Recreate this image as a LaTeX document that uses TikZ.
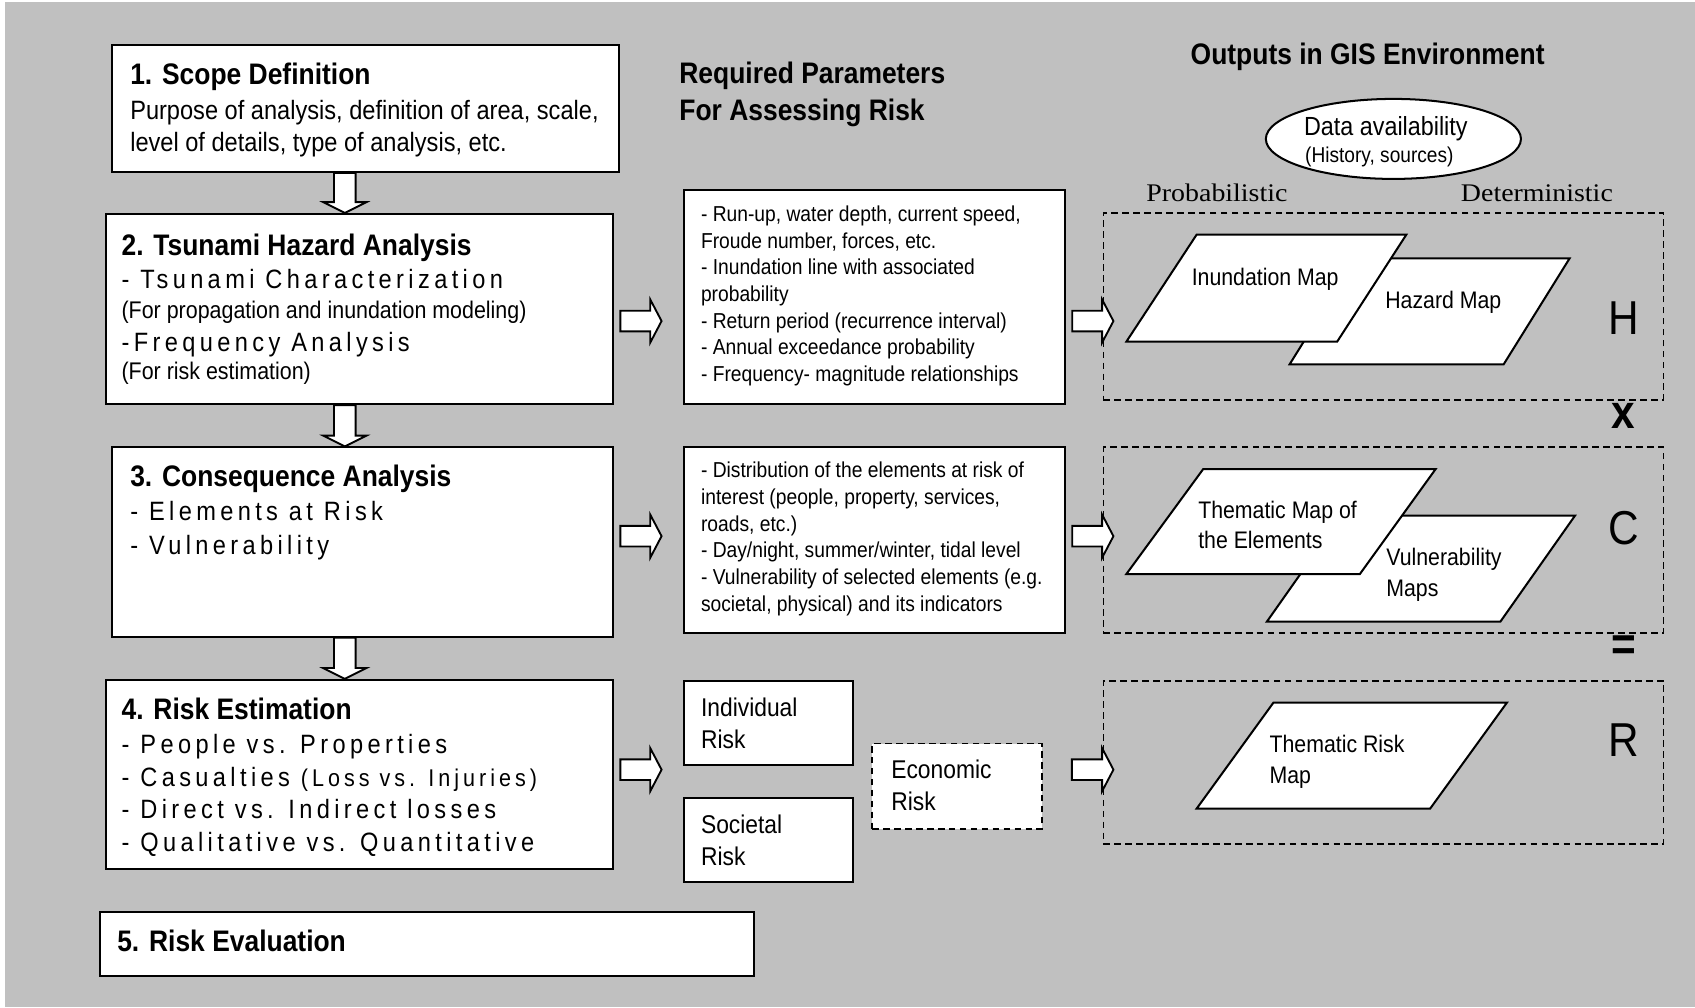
\documentclass[tikz,border=0pt]{standalone}
\usepackage{fontspec}
\setmainfont[FakeStretch=0.89]{Liberation Sans}
\newfontfamily\spacedfont[FakeStretch=0.89,LetterSpace=16.5]{Liberation Sans}
\newfontfamily\serifont[FakeStretch=1.1]{Liberation Serif}
\usetikzlibrary{calc,positioning,shapes.geometric}
\definecolor{bggray}{RGB}{192,192,192}

\tikzset{every picture/.style={line width=0.75pt}}
\tikzset{
  box/.style={draw, fill=white, line width=1.4pt, anchor=north west, inner sep=0pt},
  dbox/.style={draw, dash pattern=on 4.6pt off 3pt, line width=1.2pt, anchor=north west, inner sep=0pt},
  sz/.style 2 args={minimum width=#1*0.75pt, minimum height=#2*0.75pt},
  blk/.style={draw, fill=white, line width=1.3pt, line join=miter},
  pgram/.style={draw, fill=white, line width=1.4pt},
  ttl/.style={anchor=base west, inner sep=0pt, font=\bfseries\fontsize{20.6}{25}\selectfont},
  hdr/.style={anchor=north west, inner sep=0pt, align=left, font=\bfseries\fontsize{20.6}{25.5}\selectfont},
  body/.style={anchor=north west, inner sep=0pt, align=left, font=\fontsize{18.4}{22.5}\selectfont},
  line/.style={anchor=base west, inner sep=0pt, font=\fontsize{18.4}{22.5}\selectfont},
  spc/.style={anchor=base west, inner sep=0pt, font=\spacedfont\fontsize{18.4}{22.5}\selectfont},
  note/.style={anchor=base west, inner sep=0pt, font=\fontsize{16.7}{20}\selectfont},
  prm/.style={anchor=north west, inner sep=0pt, align=left, font=\fontsize{15}{18.5}\selectfont},
  rsk/.style={anchor=north west, inner sep=0pt, align=left, font=\fontsize{17.8}{22.5}\selectfont},
  mtx/.style={anchor=north west, inner sep=0pt, align=left, font=\fontsize{16.6}{21}\selectfont},
  srf/.style={anchor=base west, inner sep=0pt, font=\serifont\fontsize{17.6}{20}\selectfont},
  big/.style={inner sep=0pt, font=\fontsize{33}{36}\selectfont}
}

% block arrows between boxes
\newcommand{\blockdown}[2]{%
  \coordinate (ba) at #1; \coordinate (bb) at #2;
  \draw[blk] ($(ba)+(-10,0)$) -- ($(bb)+(-10,-10)$) -- ($(bb)+(-20,-10)$) -- (bb)
    -- ($(bb)+(20,-10)$) -- ($(bb)+(10,-10)$) -- ($(ba)+(10,0)$) -- cycle;}
\newcommand{\blockright}[2]{%
  \coordinate (ba) at #1; \coordinate (bb) at #2;
  \draw[blk] ($(ba)+(0,-9.5)$) -- ($(bb)+(-10.5,-9.5)$) -- ($(bb)+(-10.5,-20)$) -- (bb)
    -- ($(bb)+(-10.5,20)$) -- ($(bb)+(-10.5,9.5)$) -- ($(ba)+(0,9.5)$) -- cycle;}

\begin{document}
\begin{tikzpicture}[x=0.75pt,y=0.75pt,yscale=-1,xscale=1]
\useasboundingbox (0,0) rectangle (1568,932);
\fill[white] (0,0) rectangle (1568,932);
\fill[bggray] (4.6,2) rectangle (1568,932);

%Shape: steps on the left
\node[box, sz={469}{117}] (b1) at (103,41) {};
\node[box, sz={469}{176}] (b2) at (97,197) {};
\node[box, sz={463}{175}] (b3) at (103,413) {};
\node[box, sz={469}{175}] (b4) at (97,628) {};
\node[box, sz={605}{59}] (b5) at (92,843) {};

%Shape: parameter boxes
\node[box, sz={352}{198}] (p1) at (632,175) {};
\node[box, sz={352}{172}] (p2) at (632,413) {};
\node[box, sz={156}{78}] (ri) at (632,629) {};
\node[box, sz={156}{78}] (rs) at (632,737) {};
\node[dbox, fill=white, sz={157}{79}] (re) at (806,687) {};

%Shape: GIS output groups
\node[dbox, sz={518}{173}] (hz) at (1020,196) {};
\node[dbox, sz={518}{172}] (cq) at (1020,413) {};
\node[dbox, sz={518}{151}] (rk) at (1020,629) {};

%Shape: maps
\draw[pgram] (1254,239) -- (1452,239) -- (1391,337) -- (1193,337) -- cycle;
\draw[pgram] (1107,217) -- (1301,217) -- (1237,316) -- (1042,316) -- cycle;
\draw[pgram] (1241,477) -- (1457,477) -- (1388,575) -- (1172,575) -- cycle;
\draw[pgram] (1113,434) -- (1328,434) -- (1258,531) -- (1042,531) -- cycle;
\draw[pgram] (1178,650) -- (1394,650) -- (1323,748) -- (1107,748) -- cycle;

%Shape: Ellipse
\node[ellipse, draw, fill=white, line width=1.4pt, inner sep=0pt, sz={236}{74}] (dat) at (1289,128.5) {};

%Block arrows
\blockdown{(b1.south -| 319,0)}{(b2.north -| 319,0)}
\blockdown{(b2.south -| 319,0)}{(b3.north -| 319,0)}
\blockdown{(b3.south -| 319,0)}{(b4.north -| 319,0)}
\blockright{($(b2.east |- 0,297)+(6,0)$)}{($(p1.west |- 0,297)+(-20,0)$)}
\blockright{($(p1.east |- 0,297)+(6,0)$)}{($(hz.west |- 0,297)+(10,0)$)}
\blockright{($(b3.east |- 0,496)+(6,0)$)}{($(p2.west |- 0,496)+(-20,0)$)}
\blockright{($(p2.east |- 0,496)+(6,0)$)}{($(cq.west |- 0,496)+(10,0)$)}
\blockright{($(b4.east |- 0,712)+(6,0)$)}{($(ri.west |- 0,712)+(-20,0)$)}
\blockright{($(re.east |- 0,712)+(27,0)$)}{($(rk.west |- 0,712)+(10,0)$)}

% Text Node
\node[ttl] (t1) at (120,78) {1. Scope Definition};
\node[body] (t1b) at (120,92) {Purpose of analysis, definition of area, scale,\\level of details, type of analysis, etc.};
% Text Node
\node[ttl] (t2) at (112,236) {2. Tsunami Hazard Analysis};
\node[spc] (t2a) at (112,266.5) {- Tsunami Characterization};
\node[note] (t2b) at (112,294.5) {(For propagation and inundation modeling)};
\node[spc] (t2c) at (112,325.5) {-Frequency Analysis};
\node[note] (t2d) at (112,351.5) {(For risk estimation)};
% Text Node
\node[ttl] (t3) at (120,450) {3. Consequence Analysis};
\node[spc] (t3a) at (120,481.5) {- Elements at Risk};
\node[spc] (t3b) at (120,512.5) {- Vulnerability};
% Text Node
\node[ttl] (t4) at (112,666) {4. Risk Estimation};
\node[spc] (t4a) at (112,697) {- People vs. Properties};
\node[spc] (t4b) at (112,727.5) {- Casualties {\fontsize{16.8}{20}\selectfont(Loss vs. Injuries)}};
\node[spc] (t4c) at (112,757.5) {- Direct vs. Indirect losses};
\node[spc] (t4d) at (112,788) {- Qualitative vs. Quantitative};
% Text Node
\node[ttl] (t5) at (108,880) {5. Risk Evaluation};

% Text Node
\node[hdr] (hp) at (628,57) {Required Parameters\\For Assessing Risk};
\node[hdr] (hg) at (1101,39) {Outputs in GIS Environment};
\node[prm] (tp1) at (648,190) {- Run-up, water depth, current speed,\\Froude number, forces, etc.\\- Inundation line with associated\\probability\\- Return period (recurrence interval)\\- Annual exceedance probability\\- Frequency- magnitude relationships};
\node[prm] (tp2) at (648,427) {- Distribution of the elements at risk of\\interest (people, property, services,\\roads, etc.)\\- Day/night, summer/winter, tidal level\\- Vulnerability of selected elements (e.g.\\societal, physical) and its indicators};
\node[rsk] (tri) at (648,645) {Individual\\Risk};
\node[rsk] (trs) at (648,753) {Societal\\Risk};
\node[rsk] (tre) at (824,702.5) {Economic\\Risk};

% Text Node
\node[anchor=base, inner sep=0pt, font=\fontsize{18.2}{22}\selectfont] (dat1) at (1282,125.5) {Data availability};
\node[anchor=base, inner sep=0pt, font=\fontsize{14.9}{18}\selectfont] (dat2) at (1276,150.5) {(History, sources)};
\node[srf] (pb) at (1060,186) {Probabilistic};
\node[srf] (dt) at (1351,186) {Deterministic};

% Text Node
\node[mtx] (m1) at (1102,248) {Inundation Map};
\node[mtx] (m2) at (1281,269) {Hazard Map};
\node[mtx] (m3) at (1108,463) {Thematic Map of\\the Elements};
\node[mtx] (m4) at (1282,507) {Vulnerability\\Maps};
\node[mtx] (m5) at (1174,680) {Thematic Risk\\Map};

% Text Node
\node[big] (lh) at (1502,294) {H};
\node[big, font=\bfseries\fontsize{33}{36}\selectfont] (lx) at (1502,385) {x};
\node[big] (lc) at (1502,489) {C};
\node[big, font=\bfseries\fontsize{33}{36}\selectfont] (le) at (1502,600) {=};
\node[big] (lr) at (1502,685) {R};
\end{tikzpicture}
\end{document}
